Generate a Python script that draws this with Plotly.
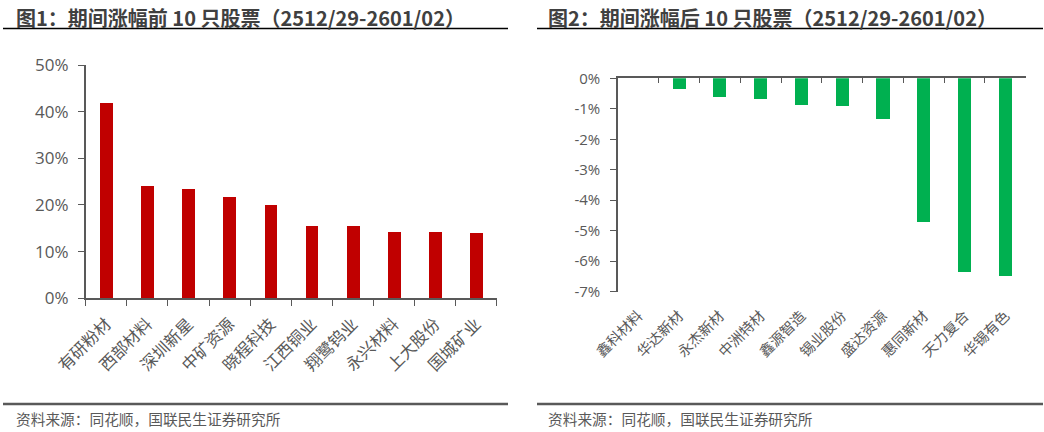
import plotly.graph_objects as go

# ---------------- data ----------------
top_names = ["有研粉材", "西部材料", "深圳新星", "中矿资源", "晓程科技",
             "江西铜业", "翔鹭钨业", "永兴材料", "上大股份", "国城矿业"]
top_values = [41.9, 24.0, 23.4, 21.7, 20.0, 15.4, 15.4, 14.2, 14.2, 14.0]

bottom_names = ["鑫科材料", "华达新材", "永杰新材", "中洲特材", "鑫源智造",
                "锡业股份", "盛达资源", "惠同新材", "天力复合", "华锡有色"]
bottom_values = [0.0, -0.36, -0.62, -0.69, -0.88, -0.91, -1.33, -4.73, -6.37, -6.51]

left_ticks = [0, 10, 20, 30, 40, 50]
left_ticktext = ["0%", "10%", "20%", "30%", "40%", "50%"]
right_ticks = [0, -1, -2, -3, -4, -5, -6, -7]
right_ticktext = ["0%", "-1%", "-2%", "-3%", "-4%", "-5%", "-6%", "-7%"]

title1 = "图1：期间涨幅前 10 只股票（2512/29-2601/02）"
title2 = "图2：期间涨幅后 10 只股票（2512/29-2601/02）"
source = "资料来源：同花顺，国联民生证券研究所"

# ---------------- layout helpers ----------------
W, H = 1044, 432
def px(x):
    return x / W
def py(y):
    return 1 - y / H

GRAY = "#595959"
CJK = "Noto Sans CJK SC"
NUMF = "Open Sans, Noto Sans CJK SC"

fig = go.Figure()

fig.add_trace(go.Bar(x=top_names, y=top_values, marker_color="#C00000",
                     width=0.31, xaxis="x", yaxis="y", showlegend=False))
fig.add_trace(go.Bar(x=bottom_names, y=bottom_values, marker_color="#00B050",
                     width=0.32, xaxis="x2", yaxis="y2", showlegend=False))
# empty trace so the top (zero-line) axis of chart 2 is rendered
fig.add_trace(go.Scatter(x=[], y=[], xaxis="x3", yaxis="y2", showlegend=False))

fig.update_layout(
    template="none",
    width=W, height=H,
    margin=dict(l=0, r=0, t=0, b=0, pad=0, autoexpand=False),
    paper_bgcolor="white", plot_bgcolor="white",
    bargap=0,
    xaxis=dict(domain=[px(85.7), px(496.7)], anchor="y", type="category", automargin=False,
               showline=True, linecolor=GRAY, linewidth=1.5,
               ticks="outside", ticklen=6, tickcolor=GRAY, tickwidth=1.2,
               tickson="boundaries", tickangle=-45, ticklabelstandoff=8,
               tickfont=dict(family=CJK, size=16.5, color=GRAY),
               showgrid=False, zeroline=False, range=[-0.5, 9.5]),
    yaxis=dict(domain=[py(298.3), py(65)], anchor="x", range=[0, 50], automargin=False,
               tickvals=left_ticks, ticktext=left_ticktext, ticklabelstandoff=6,
               showline=True, linecolor=GRAY, linewidth=1.5,
               ticks="outside", ticklen=6, tickcolor=GRAY, tickwidth=1.2,
               tickfont=dict(family=NUMF, size=17, color=GRAY),
               showgrid=False, zeroline=False),
    xaxis2=dict(domain=[px(618), px(1025.7)], anchor="y2", type="category", automargin=False,
                showline=False, ticks="", tickangle=-45, ticklabelstandoff=12,
                tickfont=dict(family=CJK, size=14.5, color=GRAY),
                showgrid=False, zeroline=False, range=[-0.5, 9.5]),
    xaxis3=dict(domain=[px(618), px(1025.7)], anchor="y2", overlaying="x2", automargin=False,
                side="top", type="linear", range=[-0.5, 9.5],
                tickvals=[i - 0.5 for i in range(len(bottom_names) + 1)],
                showticklabels=False, showline=True, linecolor=GRAY, linewidth=1.5,
                ticks="inside", ticklen=5, tickcolor=GRAY, tickwidth=1.2,
                showgrid=False, zeroline=False),
    yaxis2=dict(domain=[py(291.7), py(78.3)], anchor="x2", range=[-7, 0], automargin=False,
                tickvals=right_ticks, ticktext=right_ticktext, ticklabelstandoff=7,
                showline=True, linecolor=GRAY, linewidth=1.5,
                ticks="outside", ticklen=6, tickcolor=GRAY, tickwidth=1.2,
                tickfont=dict(family=NUMF, size=15, color=GRAY),
                showgrid=False, zeroline=False),
)

annos = []
for t, x0 in [(title1, 14), (title2, 546)]:
    annos.append(dict(text=f"<b>{t}</b>", x=px(x0), y=py(17), xref="paper", yref="paper",
                      xanchor="left", yanchor="middle", showarrow=False,
                      font=dict(family=CJK, size=20, color="#404040")))
for x0 in [14, 546]:
    annos.append(dict(text=source, x=px(x0), y=py(418), xref="paper", yref="paper",
                      xanchor="left", yanchor="middle", showarrow=False,
                      font=dict(family=CJK, size=14.7, color=GRAY)))
fig.update_layout(annotations=annos)

shapes = []
for xa, xb in [(3, 508), (537, 1043)]:
    shapes.append(dict(type="line", xref="paper", yref="paper",
                       x0=px(xa), x1=px(xb), y0=py(28.5), y1=py(28.5),
                       line=dict(color="#000000", width=1.5)))
    shapes.append(dict(type="line", xref="paper", yref="paper",
                       x0=px(xa), x1=px(xb), y0=py(404), y1=py(404),
                       line=dict(color=GRAY, width=2.5)))
fig.update_layout(shapes=shapes)

fig.write_html("out.html", config={"displayModeBar": False},
               post_script="document.body.style.margin='0';document.body.style.overflow='hidden';")
